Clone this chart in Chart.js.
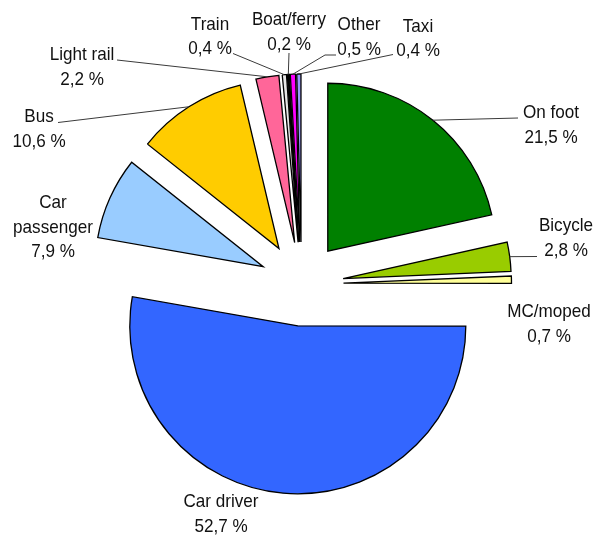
<!DOCTYPE html>
<html>
<head>
<meta charset="utf-8">
<script src="https://cdn.jsdelivr.net/npm/chart.js@4"></script>
<style>
  html, body { margin: 0; padding: 0; background: #fff; }
  canvas { display: block; }
</style>
</head>
<body>
<canvas id="modeChart" width="596" height="535"></canvas>
<script>
// Share of trips by main mode (%), clockwise from 12 o'clock
const modes = ['On foot', 'Bicycle', 'MC/moped', 'Car driver', 'Car\npassenger', 'Bus',
               'Light rail', 'Train', 'Boat/ferry', 'Other', 'Taxi'];
const shares = [21.5, 2.8, 0.7, 52.7, 7.9, 10.6, 2.2, 0.4, 0.2, 0.5, 0.4];
const sliceColors = ['#008000', '#99cc00', '#ffff99', '#3366ff', '#99ccff', '#ffcc00',
                     '#ff6699', '#e6e6e6', '#000000', '#ff00ff', '#9999ff'];

// label layout: text centre x, first baseline y, leader line end points (null = no leader)
const labelPos = [
  { x: 551, y: 118, leader: [[518, 118]] },
  { x: 566, y: 231, leader: [[537, 256.5]] },
  { x: 549, y: 317, leader: null },
  { x: 221, y: 507, leader: null },
  { x: 53, y: 208, leader: null },
  { x: 39, y: 122, leader: [[58, 122.5]] },
  { x: 82, y: 60, leader: [[117, 60]] },
  { x: 210, y: 29.5, leader: [[233, 53.5]] },
  { x: 289, y: 25, leader: [[289, 53]] },
  { x: 359, y: 30, leader: [[336, 55], [325, 55]] },
  { x: 418, y: 31.5, leader: [[393, 54.5]] }
];

const EXPLODE = 42;
const LINE_H = 24.5;

// every slice pulled out from the centre along its mid angle
const explodePlugin = {
  id: 'explode',
  beforeDatasetDraw(chart, args) {
    const ctx = chart.ctx;
    args.meta.data.forEach(arc => {
      const mid = (arc.startAngle + arc.endAngle) / 2;
      ctx.save();
      ctx.translate(Math.cos(mid) * EXPLODE, Math.sin(mid) * EXPLODE);
      arc.draw(ctx);
      ctx.restore();
    });
    return false;
  }
};

const labelPlugin = {
  id: 'sliceLabels',
  afterDatasetsDraw(chart) {
    const ctx = chart.ctx;
    const arcs = chart.getDatasetMeta(0).data;
    ctx.save();
    arcs.forEach((arc, i) => {
      const pos = labelPos[i];
      const mid = (arc.startAngle + arc.endAngle) / 2;
      if (pos.leader) {
        const r = EXPLODE + arc.outerRadius;
        ctx.beginPath();
        ctx.moveTo(pos.leader[0][0], pos.leader[0][1]);
        pos.leader.slice(1).forEach(p => ctx.lineTo(p[0], p[1]));
        ctx.lineTo(arc.x + Math.cos(mid) * r, arc.y + Math.sin(mid) * r);
        ctx.strokeStyle = '#3a3a3a';
        ctx.lineWidth = 1;
        ctx.stroke();
      }
      const lines = modes[i].split('\n');
      lines.push(shares[i].toFixed(1).replace('.', ',') + ' %');
      ctx.fillStyle = '#111';
      ctx.font = '19px "Liberation Sans", Arial, sans-serif';
      ctx.textAlign = 'center';
      ctx.textBaseline = 'alphabetic';
      lines.forEach((t, k) => {
        ctx.save();
        ctx.translate(pos.x, pos.y + k * LINE_H);
        ctx.scale(0.9, 1);
        ctx.fillText(t, 0, 0);
        ctx.restore();
      });
    });
    ctx.restore();
  }
};

const ctx = document.getElementById('modeChart').getContext('2d');
const chart = new Chart(ctx, {
  type: 'pie',
  data: {
    labels: modes,
    datasets: [{
      data: shares,
      backgroundColor: sliceColors,
      borderColor: '#000',
      borderWidth: 1.3,
      borderJoinStyle: 'miter',
      radius: 168
    }]
  },
  options: {
    responsive: false,
    animation: false,
    layout: { padding: { left: 7, top: 33, right: 0, bottom: 0 } },
    plugins: {
      legend: { display: false },
      tooltip: { enabled: false }
    }
  },
  plugins: [explodePlugin, labelPlugin]
});
</script>
</body>
</html>
